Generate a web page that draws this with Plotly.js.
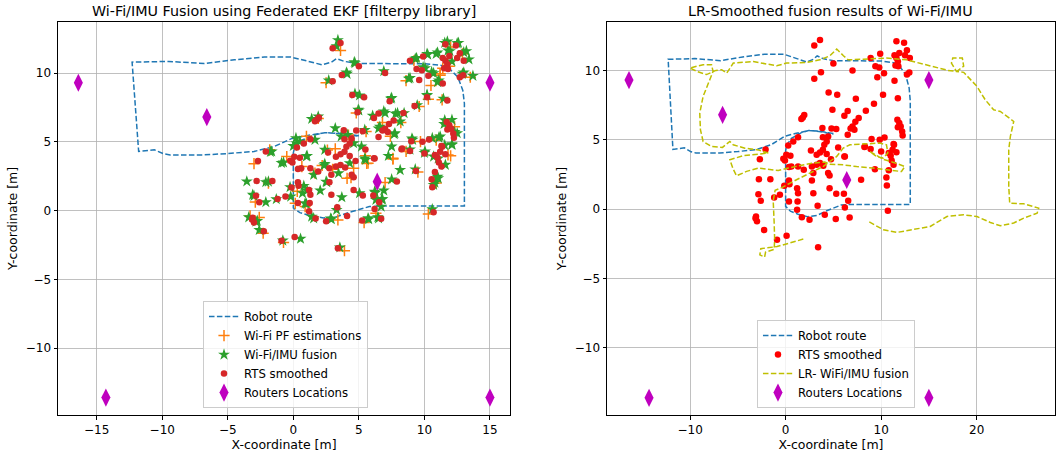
<!DOCTYPE html>
<html><head><meta charset="utf-8">
<script src="https://cdn.plot.ly/plotly-3.0.1.min.js"></script>
<style>html,body{margin:0;padding:0;background:#fff}#c{width:1059px;height:457px}</style>
</head><body><div id="c"></div>
<script>
// Robot route
const routeX = [5.0,3.5,2.4,1.6,0.6,0.1,0.0,0.0,0.0,0.0,0.5,1.3,2.3,3.3,4.3,5.8,6.8,9.0,11.0,13.05,13.05,13.05,13.05,12.93,12.55,11.8,11.3,10.0,7.0,5.0,3.9,3.3,2.9,2.2,1.1,-0.2,-2.2,-4.5,-6.8,-9.5,-12.3,-12.1,-11.8,-10.6,-9.9,-9.4,-6.9,-5.0,-3.0,-1.5,-0.1,1.0,1.7,2.4,3.5,5.0];
const routeY = [5.45,5.62,5.67,5.5,5.1,4.6,4.2,3.0,1.5,0.2,-0.15,-0.37,-0.54,-0.45,-0.12,0.29,0.34,0.32,0.33,0.34,3.0,6.0,7.8,8.74,9.71,10.43,10.56,10.68,10.68,10.7,10.85,11.05,10.8,10.6,10.87,11.17,11.17,10.97,10.7,10.85,10.8,8.0,4.3,4.42,4.13,4.05,4.05,4.15,4.3,4.65,5.25,5.45,5.58,5.67,5.6,5.4];

// Wi-Fi PF estimations
const pfX = [3.6,2.5,8.6,11.2,10.5,10.3,11.35,13.5,11.4,11.2,9.6,8.2,7.6,7.0,8.6,9.7,10.9,12.0,11.8,9.5,10.3,5.7,5.6,5.55,4.1,3.9,3.4,5.4,6.3,4.6,2.2,1.65,0.9,0.15,0.65,-0.5,-1.8,-3.0,-2.9,-2.3,-0.75,-3.3,5.5,7.6,12.9,12.0,9.2,11.9,4.2,1.0,-1.9,3.0,2.6,6.8,10.9,12.3,4.8,1.9,-2.6,0.3,6.4,7.4,4.4,3.2];
const pfY = [11.65,9.3,9.45,9.85,9.1,8.1,8.06,9.7,10.36,9.95,7.57,6.4,3.75,2.04,4.3,5.02,5.12,3.98,4.05,2.8,-0.24,3.45,3.43,5.75,2.35,-2.92,-0.68,-0.87,-0.19,3.08,3.28,2.72,0.29,0.53,3.2,3.93,4.42,3.41,0.62,-1.65,-2.32,-0.39,3.98,3.8,11.4,11.9,10.9,10.5,5.5,5.4,2.0,3.0,4.4,6.4,2.0,6.1,7.1,6.7,-0.5,1.4,0.9,5.4,2.4,4.5];

// Wi-Fi/IMU fusion
const fusionX = [3.4,3.3,4.1,2.7,4.7,6.9,8.8,9.3,10.25,10.9,11.55,11.8,12.5,13.0,13.4,13.7,12.9,10.55,9.9,11.0,12.1,10.2,11.45,4.7,5.05,7.45,5.0,9.45,6.9,7.8,8.45,8.15,6.5,7.7,6.6,7.75,11.55,12.3,12.1,12.5,11.5,9.05,11.1,12.1,10.6,9.1,7.5,7.25,8.9,10.0,11.05,11.55,12.1,10.7,11.6,9.3,11.0,10.8,10.6,7.5,6.2,6.75,6.7,6.9,5.7,6.45,5.45,5.5,5.05,3.7,3.3,2.9,3.55,0.55,-0.8,-2.6,-2.85,-3.4,-3.1,-2.1,-1.3,-3.55,-2.1,-0.9,-1.75,-0.25,-0.2,1.05,0.7,1.0,1.4,2.05,2.55,2.35,1.0,0.25,0.5,0.2,1.65,1.4,1.9,3.2,3.65,4.15,5.45,4.6,5.2,4.3,3.45,2.4,2.4,2.5,1.55,1.05,0.0,4.95,6.05,7.0,7.5,7.95,9.4,10.2,11.0,11.75,12.6,13.2,13.0,11.95,11.1,10.7,10.05,10.2,11.2,10.05,11.05,10.7,8.9,6.25,6.8,5.75,6.5,6.3,0.8,0.9,1.55,2.85,-3.0,-1.9,-0.75,-1.65,-2.75,4.05,4.65,8.15];
const fusionY = [12.4,11.95,9.95,9.47,10.73,10.14,9.6,11.04,11.35,11.4,12.2,11.64,12.17,11.52,11.0,9.8,9.95,10.07,10.43,9.35,10.85,8.38,8.14,8.5,8.38,8.14,7.29,7.66,7.22,7.05,7.09,6.48,5.97,5.56,6.1,5.63,6.57,5.72,6.6,5.63,6.3,5.24,5.31,4.78,5.27,5.15,4.66,3.98,4.44,4.2,3.79,4.76,4.83,3.93,3.33,3.0,2.46,2.03,0.1,2.27,1.38,0.82,0.29,1.46,-0.56,-0.48,3.79,3.69,1.26,0.97,0.05,-0.63,-2.68,-2.05,-2.18,-1.41,-0.8,-0.49,1.15,0.61,0.83,2.12,2.07,3.46,4.27,1.71,1.02,1.46,1.27,0.49,-0.44,1.46,2.07,3.29,3.95,4.88,5.02,5.27,5.15,6.67,6.84,5.99,5.39,5.51,5.87,4.9,4.66,3.45,2.72,4.42,3.4,2.11,2.6,3.98,4.7,7.33,6.9,7.1,8.2,7.09,11.1,11.4,11.5,12.3,12.2,11.6,10.05,11.6,9.47,10.0,10.36,8.42,5.39,4.3,2.35,1.87,9.64,1.3,0.83,-0.63,-0.56,0.78,1.8,0.53,-0.56,-0.58,1.07,2.11,3.5,4.3,-0.75,10.05,10.8,2.95];

// RTS smoothed
const rtsX = [3.0,3.6,3.7,3.0,5.0,7.0,8.9,9.9,9.4,9.8,9.6,10.3,11.6,12.4,11.4,11.9,12.7,13.0,12.5,11.6,11.75,11.5,11.8,11.4,12.7,12.95,10.2,11.75,4.5,5.4,7.35,9.25,4.9,6.5,6.15,8.4,7.65,1.8,1.95,1.65,7.3,7.0,6.8,7.2,6.5,5.3,4.8,3.85,4.45,3.9,4.3,4.05,1.3,0.8,0.27,11.7,11.9,12.05,12.2,12.25,11.75,10.35,9.85,9.0,8.25,8.9,10.0,11.3,10.8,11.6,11.0,11.1,11.3,10.8,10.55,10.6,10.7,9.35,7.9,6.1,5.3,6.55,6.2,6.7,5.25,4.1,3.35,2.9,3.4,4.6,2.75,2.9,4.6,4.45,3.25,2.75,3.95,3.6,4.75,6.15,4.3,3.25,3.6,2.65,3.9,1.9,1.3,0.6,0.35,-0.07,0.5,0.35,1.2,1.3,1.25,0.35,1.2,1.7,2.5,0.4,-0.6,-1.2,-1.6,-2.8,-2.85,-2.6,-3.1,-3.0,-2.25,-0.9,0.1,-2.1,-2.7,-0.24,0.07,-0.14,-3.15,5.5,6.2,8.3,11.35,11.2];
const rtsY = [11.8,12.2,9.86,9.4,10.5,10.0,10.9,11.2,10.3,10.2,9.5,9.8,12.1,12.0,11.1,11.25,11.45,10.9,11.1,10.9,10.65,10.35,10.3,9.25,9.7,9.85,8.25,8.0,8.4,8.25,7.95,7.6,7.16,7.07,6.73,7.1,6.56,6.6,6.78,6.5,6.3,5.96,5.82,5.72,5.36,5.77,5.82,5.84,5.24,5.19,4.88,4.64,5.19,4.88,4.59,6.44,6.2,5.96,5.6,5.3,5.9,5.17,5.0,5.05,4.47,4.33,4.16,4.7,4.04,4.1,3.85,3.5,3.2,2.8,2.28,1.7,-0.12,2.88,2.12,1.1,1.1,0.6,0.12,-0.6,-0.72,-0.4,0.24,1.15,-2.74,1.5,2.07,2.6,2.43,2.6,3.2,3.08,3.13,3.32,3.6,3.8,3.97,3.92,4.09,4.23,4.28,2.84,3.08,3.08,3.03,3.5,3.85,2.07,1.5,1.15,0.55,0.55,-0.05,-0.58,-0.77,1.8,1.03,0.84,2.16,2.16,1.08,0.6,-0.53,-0.87,-1.5,-2.2,-1.92,4.3,3.6,3.63,3.92,1.68,-0.65,4.44,3.79,4.52,4.64,4.28];

// LR- WiFi/IMU fusion
const lrX = [1.85,0.45,-0.9,-2.6,-2.7,-2.2,-2.1,-1.2,-1.15,-1.2,-1.3,-1.1,-0.25,0.8,2.55,3.95,5.35,6.03,6.73,8.12,9.86,10.56,10.7,10.2,9.52,8.82,10.2,11.6,12.48,12.13,10.9,9.16,7.43,6.03,4.63,4.1,2.72,1.32,0.27,-0.77,-2.87,-4.09,-5.14,-5.5,-5.84,-4.44,-2.34,-1.82,-2.87,-4.26,-5.49,-5.84,-6.61,-7.76,-8.64,-8.92,-8.99,-8.64,-7.94,-7.6,-7.76,-8.64,-10.03,-9.2,-8.29,-7.3,-6.7,-6.17,-5.48,-3.39,-0.94,0.1,2.2,3.59,4.63,5.35,6.05,6.55,8.12,10.56,12.66,14.75,17.0,17.9,18.64,18.5,17.5,17.36,17.89,18.64,20.03,20.9,21.78,22.48,23.88,23.53,23.36,23.36,23.46,24.93,26.5,26.33,24.93,23.88,22.48,21.43,20.03,18.64,16.89,15.14,13.39,11.64,10.24,8.67];
const lrY = [-2.16,-2.45,-2.7,-2.85,-3.3,-3.45,-3.1,-2.9,-2.2,-1.0,0.6,1.35,1.6,2.0,2.6,3.08,3.8,4.4,4.64,4.69,4.76,4.64,4.04,3.68,3.79,4.15,3.6,3.3,3.07,2.71,2.83,2.96,3.07,3.19,3.24,3.39,3.31,3.14,2.96,2.78,2.96,2.72,2.4,2.9,3.56,3.85,4.04,4.04,4.27,4.39,4.64,4.88,4.45,4.52,4.88,5.72,6.92,8.13,9.33,9.93,10.41,10.41,10.17,9.9,9.7,10.0,10.05,9.8,10.53,10.64,10.33,10.53,10.57,10.76,11.05,11.54,11.06,10.76,10.81,10.89,10.76,10.4,10.0,9.92,10.3,10.9,10.89,10.53,9.92,9.86,8.85,7.88,7.16,7.04,6.32,5.24,4.28,1.63,0.43,0.38,0.07,-0.29,-0.65,-1.0,-1.2,-0.96,-0.53,-0.41,-0.53,-1.25,-1.44,-1.68,-1.49,-0.89];

// Routers Locations
const routerX = [-16.4,-6.6,6.4,15.0,-14.3,15.0];
const routerY = [9.3,6.8,2.1,9.3,-13.6,-13.6];

const dash = '5.5px,2.4px';
const F = 'DejaVu Sans, sans-serif';
const traces = [
  {x: routeX, y: routeY, mode: 'lines', name: 'Robot route', line: {color: '#1f77b4', width: 1.5, dash: dash}, xaxis: 'x', yaxis: 'y', legend: 'legend'},
  {x: pfX, y: pfY, mode: 'markers', name: 'Wi-Fi PF estimations', marker: {symbol: 'cross-thin-open', size: 8, line: {color: '#ff7f0e', width: 1.5}, color: '#ff7f0e'}, xaxis: 'x', yaxis: 'y', legend: 'legend'},
  {x: fusionX, y: fusionY, mode: 'markers', name: 'Wi-Fi/IMU fusion', marker: {symbol: 'star', size: 9, color: '#2ca02c', line: {width: 0}}, xaxis: 'x', yaxis: 'y', legend: 'legend'},
  {x: rtsX, y: rtsY, mode: 'markers', name: 'RTS smoothed', marker: {symbol: 'circle', size: 6.5, color: '#d62728', line: {width: 0}}, xaxis: 'x', yaxis: 'y', legend: 'legend'},
  {x: routerX, y: routerY, mode: 'markers', name: 'Routers Locations', marker: {symbol: 'diamond-tall', size: 13, color: '#bf00bf', line: {width: 0}}, xaxis: 'x', yaxis: 'y', legend: 'legend'},
  {x: routeX, y: routeY, mode: 'lines', name: 'Robot route', line: {color: '#1f77b4', width: 1.5, dash: dash}, xaxis: 'x2', yaxis: 'y2', legend: 'legend2'},
  {x: rtsX, y: rtsY, mode: 'markers', name: 'RTS smoothed', marker: {symbol: 'circle', size: 6.5, color: '#ff0000', line: {width: 0}}, xaxis: 'x2', yaxis: 'y2', legend: 'legend2'},
  {x: lrX, y: lrY, mode: 'lines', name: 'LR- WiFi/IMU fusion', line: {color: '#bfbf00', width: 1.5, dash: dash}, xaxis: 'x2', yaxis: 'y2', legend: 'legend2'},
  {x: routerX, y: routerY, mode: 'markers', name: 'Routers Locations', marker: {symbol: 'diamond-tall', size: 13, color: '#bf00bf', line: {width: 0}}, xaxis: 'x2', yaxis: 'y2', legend: 'legend2'}
];

const axBase = {showline: true, mirror: true, linecolor: '#000', linewidth: 1, showgrid: true, gridcolor: '#b0b0b0', gridwidth: 0.8,
  ticks: 'outside', ticklen: 3.5, tickcolor: '#000', tickfont: {family: F, size: 12, color: '#000'}, zeroline: false, automargin: false};
const legBase = {bgcolor: 'rgba(255,255,255,0.8)', bordercolor: '#cccccc', borderwidth: 1, font: {family: F, size: 11.7, color: '#000'}, xanchor: 'left', yanchor: 'bottom', tracegroupgap: 0};
const tf = {family: F, size: 12.5, color: '#000'};

const layout = {
  width: 1059, height: 457, margin: {l: 0, r: 0, t: 0, b: 0}, paper_bgcolor: '#fff', plot_bgcolor: '#fff', showlegend: true,
  font: {family: F, color: '#000'},
  xaxis: Object.assign({}, axBase, {domain: [0.0548, 0.4816], range: [-17.95, 16.53], tickvals: [-15,-10,-5,0,5,10,15], anchor: 'y',
    title: {text: 'X-coordinate [m]', font: tf, standoff: 2}}),
  yaxis: Object.assign({}, axBase, {domain: [0.0919, 0.9519], range: [-14.87, 13.72], tickvals: [-10,-5,0,5,10], anchor: 'x',
    title: {text: 'Y-coordinate [m]', font: tf, standoff: 5}}),
  xaxis2: Object.assign({}, axBase, {domain: [0.5732, 0.9962], range: [-18.7, 28.2], tickvals: [-10,0,10,20], anchor: 'y2',
    title: {text: 'X-coordinate [m]', font: tf, standoff: 2}}),
  yaxis2: Object.assign({}, axBase, {domain: [0.0919, 0.9519], range: [-14.84, 13.49], tickvals: [-10,-5,0,5,10], anchor: 'x2',
    title: {text: 'Y-coordinate [m]', font: tf, standoff: 5}}),
  legend: Object.assign({}, legBase, {x: 0.1917, y: 0.107}),
  legend2: Object.assign({}, legBase, {x: 0.7148, y: 0.107}),
  annotations: [
    {text: 'Wi-Fi/IMU Fusion using Federated EKF [filterpy library]', xref: 'paper', yref: 'paper', x: 0.2682, y: 0.976, xanchor: 'center', yanchor: 'middle', showarrow: false, font: {family: F, size: 14.3, color: '#000'}},
    {text: 'LR-Smoothed fusion results of Wi-Fi/IMU', xref: 'paper', yref: 'paper', x: 0.7847, y: 0.976, xanchor: 'center', yanchor: 'middle', showarrow: false, font: {family: F, size: 14.3, color: '#000'}}
  ]
};
Plotly.newPlot('c', traces, layout, {displayModeBar: false, staticPlot: true});
</script></body></html>
